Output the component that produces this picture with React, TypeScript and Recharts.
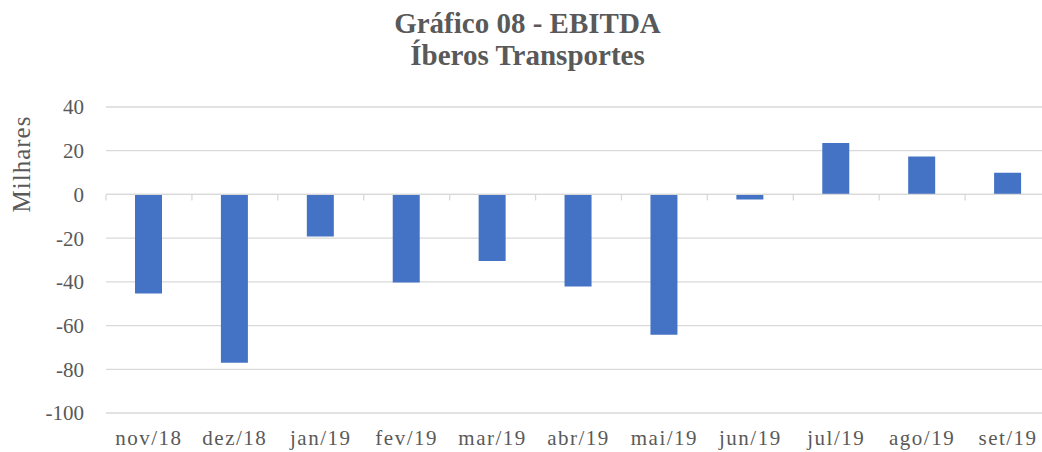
import React from "react";
import { BarChart, Bar, XAxis, YAxis, CartesianGrid, ReferenceLine } from "recharts";

const categories = ["nov/18", "dez/18", "jan/19", "fev/19", "mar/19", "abr/19", "mai/19", "jun/19", "jul/19", "ago/19", "set/19"];
const ebitda = [-45.3, -77.0, -19.2, -40.3, -30.5, -42.1, -64.2, -2.3, 23.5, 17.4, 9.9];
const yTicks = [-100, -80, -60, -40, -20, 0, 20, 40];
const titleLines = ["Gráfico 08 - EBITDA", "Íberos Transportes"];
const yLabel = "Milhares";

const data = categories.map((c, i) => ({ name: c, value: ebitda[i] }));

const FONT = "'Liberation Serif', 'Times New Roman', serif";
const GREY = "#595959";
const GRID = "#d9d9d9";

const ZeroAxis = (p: any) => {
  const { x1, x2, y1 } = p;
  const n = categories.length;
  const w = (x2 - x1) / n;
  return (
    <g>
      <line x1={x1} y1={y1} x2={x2} y2={y1} stroke={GRID} strokeWidth={1.3} />
      {Array.from({ length: n + 1 }, (_, i) => (
        <line key={i} x1={x1 + i * w} x2={x1 + i * w} y1={y1} y2={y1 + 6} stroke={GRID} strokeWidth={1.3} />
      ))}
    </g>
  );
};

export default function App() {
  return (
    <div style={{ position: "absolute", left: 0, top: 0, width: 1042, height: 452, overflow: "hidden", background: "#fff" }}>
      <div
        style={{
          position: "absolute",
          left: 0,
          top: 7,
          width: 1055,
          textAlign: "center",
          fontFamily: FONT,
          fontWeight: "bold",
          fontSize: 29,
          lineHeight: "32px",
          color: GREY,
        }}
      >
        {titleLines.map((t) => (
          <div key={t}>{t}</div>
        ))}
      </div>
      <div style={{ position: "absolute", left: 0, top: 0 }}>
        <BarChart width={1060} height={452} data={data} margin={{ top: 107, right: 9, bottom: 0, left: 0 }}>
          <CartesianGrid horizontal vertical={false} stroke={GRID} strokeWidth={1.3} />
          <XAxis
            dataKey="name"
            height={39}
            axisLine={false}
            tickLine={false}
            tickSize={0}
            tickMargin={17}
            interval={0}
            tick={{ fill: GREY, fontFamily: FONT, fontSize: 21, letterSpacing: 1.5 }}
          />
          <YAxis
            width={106}
            domain={[-100, 40]}
            ticks={yTicks}
            axisLine={false}
            tickLine={false}
            tickSize={0}
            tickMargin={22}
            allowDataOverflow
            tick={{ fill: GREY, fontFamily: FONT, fontSize: 21 }}
            label={{
              content: () => (
                <text
                  x={30}
                  y={164}
                  transform="rotate(-90 30 164)"
                  textAnchor="middle"
                  fill={GREY}
                  fontFamily={FONT}
                  fontSize={25}
                  letterSpacing={1}
                >
                  {yLabel}
                </text>
              ),
            }}
          />
          <Bar dataKey="value" fill="#4472C4" barSize={27} isAnimationActive={false} />
          <ReferenceLine y={0} shape={ZeroAxis} />
        </BarChart>
      </div>
    </div>
  );
}
